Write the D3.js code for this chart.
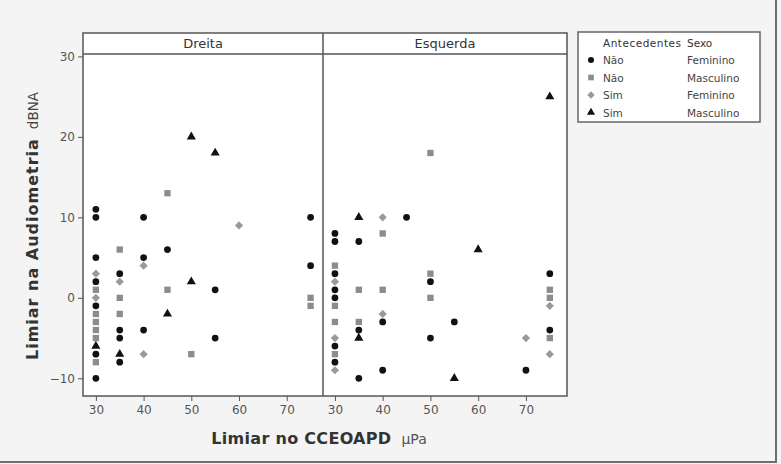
<!DOCTYPE html>
<html>
<head>
<meta charset="utf-8">
<script src="https://cdn.jsdelivr.net/npm/d3@7"></script>
<style>
  body { margin: 0; background: #f4f4f4; }
  svg { display: block; }
</style>
</head>
<body>
<div id="chart"></div>
<script>
// panels (lado) and legend groups
const lados = ["Dreita", "Esquerda"];
const antecedentes = ["Não", "Não", "Sim", "Sim"];
const sexo = ["Feminino", "Masculino", "Feminino", "Masculino"];

// [limiar CCEOAPD, limiar audiometria, grupo]
// grupo: 0 = Não/Feminino, 1 = Não/Masculino, 2 = Sim/Feminino, 3 = Sim/Masculino
const dreita = [
  [30, 11, 0], [30, 10, 0], [30, 5, 0], [30, 3, 2], [30, 2, 0], [30, 1, 1], [30, 0, 2],
  [30, -1, 0], [30, -2, 1], [30, -3, 1], [30, -4, 1], [30, -5, 1], [30, -6, 3],
  [30, -7, 0], [30, -8, 1], [30, -10, 0],
  [35, 6, 1], [35, 3, 0], [35, 2, 2], [35, 0, 1], [35, -2, 1], [35, -4, 0],
  [35, -5, 0], [35, -7, 3], [35, -8, 0],
  [40, 10, 0], [40, 5, 0], [40, 4, 2], [40, -4, 0], [40, -7, 2],
  [45, 13, 1], [45, 6, 0], [45, 1, 1], [45, -2, 3],
  [50, 20, 3], [50, 2, 3], [50, -7, 1],
  [55, 18, 3], [55, 1, 0], [55, -5, 0],
  [60, 9, 2],
  [75, 10, 0], [75, 4, 0], [75, 0, 1], [75, -1, 1]
];

const esquerda = [
  [30, 8, 0], [30, 7, 0], [30, 4, 1], [30, 3, 0], [30, 2, 2], [30, 1, 0], [30, 0, 0],
  [30, -1, 1], [30, -3, 1], [30, -5, 2], [30, -6, 0], [30, -7, 1], [30, -8, 0], [30, -9, 2],
  [35, 10, 3], [35, 7, 0], [35, 1, 1], [35, -3, 1], [35, -4, 0], [35, -5, 3], [35, -10, 0],
  [40, 10, 2], [40, 8, 1], [40, 1, 1], [40, -2, 2], [40, -3, 0], [40, -9, 0],
  [45, 10, 0],
  [50, 18, 1], [50, 3, 1], [50, 2, 0], [50, 0, 1], [50, -5, 0],
  [55, -3, 0], [55, -10, 3],
  [60, 6, 3],
  [70, -5, 2], [70, -9, 0],
  [75, 25, 3], [75, 3, 0], [75, 1, 1], [75, 0, 1], [75, -1, 2], [75, -4, 0],
  [75, -5, 1], [75, -7, 2]
];

const xTicks = [30, 40, 50, 60, 70];
const yTicks = [-10, 0, 10, 20, 30];

const width = 781, height = 464;
const plotLeft = 83, plotRight = 567, plotTop = 33, stripH = 21, plotBottom = 396;
const mid = 323;

const svg = d3.select("#chart")
  .append("svg")
  .attr("width", width)
  .attr("height", height)
  .style("font-family", "'DejaVu Sans', sans-serif");

// outer shadow-ish border of the picture
svg.append("line").attr("x1", width - 5).attr("x2", width - 5).attr("y1", 0).attr("y2", height - 2)
  .attr("stroke", "#6f6f6f").attr("stroke-width", 2);
svg.append("line").attr("x1", 0).attr("x2", width - 4).attr("y1", height - 2).attr("y2", height - 2)
  .attr("stroke", "#6f6f6f").attr("stroke-width", 2);

// white plot area
svg.append("rect")
  .attr("x", plotLeft).attr("y", plotTop)
  .attr("width", plotRight - plotLeft).attr("height", plotBottom - plotTop)
  .attr("fill", "#fff");

const y = d3.scaleLinear()
  .domain([-12.2, 30.3])
  .range([plotBottom, plotTop + stripH]);

const panelRanges = [[plotLeft, mid], [mid, plotRight]];
const panelDomains = [[27.3, 77.6], [27.5, 78.6]];
const panelData = [dreita, esquerda];

// diamond drawn as a square turned 45 degrees
const shapes = [d3.symbolCircle, d3.symbolSquare, d3.symbolSquare, d3.symbolTriangle];
const turns = [0, 0, 45, 0];
const sizes = [36, 40, 34, 36];
const fills = ["#111", "#8c8c8c", "#9a9a9a", "#111"];

lados.forEach((lado, i) => {
  const x = d3.scaleLinear()
    .domain(panelDomains[i])
    .range(panelRanges[i]);

  // strip title
  svg.append("text")
    .attr("x", (panelRanges[i][0] + panelRanges[i][1]) / 2)
    .attr("y", plotTop + stripH / 2 + 1)
    .attr("text-anchor", "middle")
    .attr("dominant-baseline", "middle")
    .attr("font-size", 13)
    .attr("fill", "#333")
    .text(lado);

  // x axis
  const xAxis = svg.append("g")
    .attr("transform", `translate(0,${plotBottom})`)
    .call(d3.axisBottom(x).tickValues(xTicks).tickSize(5).tickPadding(4));
  xAxis.select(".domain").remove();
  xAxis.selectAll(".tick line").attr("stroke", "#555");
  xAxis.selectAll("text").attr("font-size", 12).attr("fill", "#555")
    .attr("font-family", "'DejaVu Sans', sans-serif");

  // points
  svg.append("g")
    .selectAll("path")
    .data(panelData[i])
    .join("path")
    .attr("transform", d => `translate(${x(d[0])},${y(d[1])}) rotate(${turns[d[2]]})`)
    .attr("d", d => d3.symbol().type(shapes[d[2]]).size(sizes[d[2]])())
    .attr("fill", d => fills[d[2]]);
});

// y axis
const yAxis = svg.append("g")
  .attr("transform", `translate(${plotLeft},0)`)
  .call(d3.axisLeft(y).tickValues(yTicks).tickSize(5).tickPadding(3));
yAxis.select(".domain").remove();
yAxis.selectAll(".tick line").attr("stroke", "#555");
yAxis.selectAll("text").attr("font-size", 12).attr("fill", "#555")
  .attr("font-family", "'DejaVu Sans', sans-serif");

// frame, strip line and panel divider
svg.append("rect")
  .attr("x", plotLeft).attr("y", plotTop)
  .attr("width", plotRight - plotLeft).attr("height", plotBottom - plotTop)
  .attr("fill", "none").attr("stroke", "#555").attr("stroke-width", 1.5);
svg.append("line")
  .attr("x1", plotLeft).attr("x2", plotRight)
  .attr("y1", plotTop + stripH).attr("y2", plotTop + stripH)
  .attr("stroke", "#555").attr("stroke-width", 1.5);
svg.append("line")
  .attr("x1", mid).attr("x2", mid)
  .attr("y1", plotTop).attr("y2", plotBottom)
  .attr("stroke", "#555").attr("stroke-width", 1.5);

// axis titles
const yTitle = svg.append("text")
  .attr("transform", `translate(38,226) rotate(-90)`)
  .attr("text-anchor", "middle")
  .attr("fill", "#333");
yTitle.append("tspan").attr("font-weight", "bold").attr("font-size", 16).attr("letter-spacing", 1)
  .text("Limiar na Audiometria");
yTitle.append("tspan").attr("font-size", 13.5).attr("dx", 9).attr("fill", "#444").text("dBNA");

const xTitle = svg.append("text")
  .attr("x", 319)
  .attr("y", 444)
  .attr("text-anchor", "middle")
  .attr("fill", "#333");
xTitle.append("tspan").attr("font-weight", "bold").attr("font-size", 16).attr("letter-spacing", 0.3)
  .text("Limiar no CCEOAPD");
xTitle.append("tspan").attr("font-size", 14).attr("dx", 10).attr("fill", "#555").text("μPa");

// legend
const legend = svg.append("g").attr("transform", "translate(578,32)");
legend.append("rect")
  .attr("width", 182).attr("height", 90)
  .attr("fill", "#fff").attr("stroke", "#666").attr("stroke-width", 1.5);
legend.append("text").attr("x", 25).attr("y", 15).attr("font-size", 10.5)
  .attr("letter-spacing", 0.5).attr("fill", "#333").text("Antecedentes");
legend.append("text").attr("x", 109).attr("y", 15).attr("font-size", 10.5)
  .attr("fill", "#333").text("Sexo");

const rows = legend.selectAll(".row")
  .data(antecedentes)
  .join("g")
  .attr("class", "row")
  .attr("transform", (d, i) => `translate(0,${28 + i * 17.5})`);
rows.append("path")
  .attr("transform", (d, i) => `translate(13,0) rotate(${turns[i]})`)
  .attr("d", (d, i) => d3.symbol().type(shapes[i]).size(sizes[i] * 0.8)())
  .attr("fill", (d, i) => fills[i]);
rows.append("text").attr("x", 25).attr("y", 4).attr("font-size", 10.5).attr("fill", "#444").text(d => d);
rows.append("text").attr("x", 109).attr("y", 4).attr("font-size", 10.5).attr("fill", "#444").text((d, i) => sexo[i]);
</script>
</body>
</html>
